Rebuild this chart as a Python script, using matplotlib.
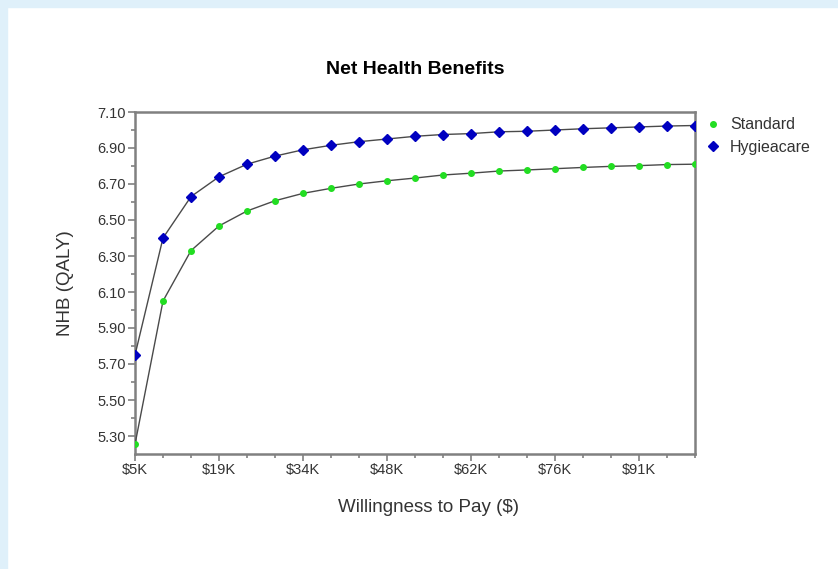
import matplotlib
matplotlib.use("Agg")
import matplotlib.pyplot as plt
from matplotlib.lines import Line2D
from matplotlib.patches import Rectangle

plt.rcParams["font.family"] = ["Liberation Sans", "DejaVu Sans"]

# willingness to pay, in $K
wtp = [5, 9.75, 14.5, 19.25, 24, 28.75, 33.5, 38.25, 43, 47.75, 52.5,
       57.25, 62, 66.75, 71.5, 76.25, 81, 85.75, 90.5, 95.25, 100]
standard = [5.254, 6.05, 6.33, 6.467, 6.55, 6.607, 6.648, 6.676, 6.70, 6.718, 6.733,
            6.75, 6.76, 6.772, 6.778, 6.785, 6.792, 6.798, 6.802, 6.808, 6.81]
hygieacare = [5.75, 6.40, 6.63, 6.74, 6.81, 6.855, 6.89, 6.915, 6.935, 6.95, 6.965,
              6.975, 6.98, 6.99, 6.993, 7.00, 7.007, 7.012, 7.017, 7.022, 7.025]
x_tick_labels = ["$5K", "$19K", "$34K", "$48K", "$62K", "$76K", "$91K"]
y_ticks = [5.30, 5.50, 5.70, 5.90, 6.10, 6.30, 6.50, 6.70, 6.90, 7.10]

W, H = 838, 569
fig = plt.figure(figsize=(W / 100, H / 100), dpi=100)
fig.patch.set_facecolor("white")
# light blue page border (top and left)
fig.patches.append(Rectangle((0, 1 - 7 / H), 1, 7 / H, transform=fig.transFigure,
                             color="#dff0fa", zorder=0))
fig.patches.append(Rectangle((0, 0), 7 / W, 1, transform=fig.transFigure,
                             color="#dff0fa", zorder=0))

ax = fig.add_axes([135 / W, 1 - 454 / H, 560 / W, 342 / H])

line_col = "#4a4a4a"
ax.plot(wtp, standard, color=line_col, lw=1.0, marker="o", ms=4,
        mfc="#22dd22", mec="#22dd22", zorder=3)
ax.plot(wtp, hygieacare, color=line_col, lw=1.0, marker="D", ms=5.5,
        mfc="#0000c0", mec="#0000c0", zorder=3)

ax.set_xlim(5, 100)
ax.set_ylim(5.20, 7.10)
ax.set_xticks(wtp[::3])
ax.set_xticklabels(x_tick_labels)
ax.set_xticks(wtp, minor=True)
ax.set_yticks(y_ticks)
ax.set_yticklabels([f"{v:.2f}" for v in y_ticks])
ax.set_yticks([v + 0.1 for v in y_ticks[:-1]], minor=True)

spine_col = "#808080"
for s in ax.spines.values():
    s.set_color(spine_col)
    s.set_linewidth(1.8)
ax.tick_params(which="major", direction="out", length=5, width=1.2,
               color=spine_col, labelsize=10.5, labelcolor="#333333", pad=1.5)
ax.tick_params(which="minor", direction="out", length=3, width=1.2, color=spine_col)

ax.set_title("Net Health Benefits", fontsize=14, fontweight="bold", pad=27)
ax.set_xlabel("Willingness to Pay ($)", fontsize=13.5, color="#333333")
ax.xaxis.set_label_coords(0.525, -0.132)
ax.set_ylabel("NHB (QALY)", fontsize=13.5, color="#333333", labelpad=17)

handles = [
    Line2D([], [], ls="none", marker="o", ms=4, mfc="#22dd22", mec="#22dd22"),
    Line2D([], [], ls="none", marker="D", ms=5.5, mfc="#0000c0", mec="#0000c0"),
]
ax.legend(handles, ["Standard", "Hygieacare"], loc="upper left",
          bbox_to_anchor=(1.0, 1.012), frameon=False, fontsize=11.5,
          handlelength=1.0, handletextpad=0.6, labelspacing=0.45,
          borderaxespad=0.2, labelcolor="#333333")

fig.savefig("out.png", dpi=100)
